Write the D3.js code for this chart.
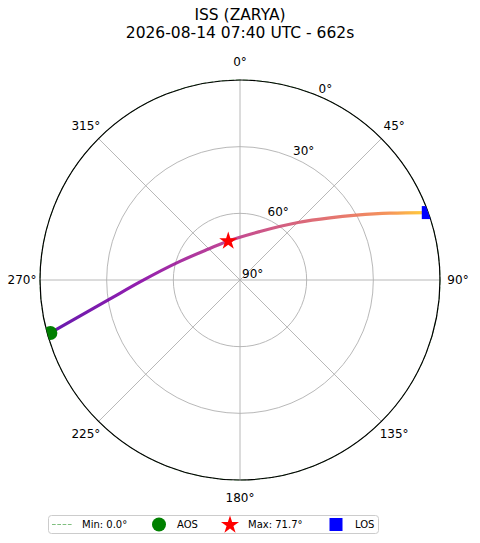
<!DOCTYPE html>
<html><head><meta charset="utf-8">
<script src="https://cdn.jsdelivr.net/npm/d3@7"></script>
<style>body{margin:0;background:#fff} svg{display:block;font-family:"DejaVu Sans",sans-serif}</style>
</head><body><svg id="c" width="480" height="543"></svg>
<script>
// ---- data ----
const titleLines = ["ISS (ZARYA)", "2026-08-14 07:40 UTC - 662s"];
const trackAz = [254.4, 261.7, 268.9, 287.2, 310.2, 343.2, 22.4, 45.25, 55.35, 60.9, 66.0, 70.3];
const trackEl = [1.4, 30.9, 45.0, 61.7, 69.4, 71.7, 66.4, 53.25, 40.8, 30.05, 16.1, 0.0];
const maxIndex = 5;
const minElevation = 0.0;
const azTicks = [0, 45, 90, 135, 180, 225, 270, 315];
const elTicks = [0, 30, 60, 90];
const legendLabels = ["Min: 0.0°", "AOS", "Max: 71.7°", "LOS"];
// colormap stops (position along track, plasma value)
const cmapStops = [[0, 0.15], [0.23, 0.27], [0.47, 0.43], [0.79, 0.63], [0.9, 0.72], [0.97, 0.85], [1, 0.92]];

// ---- layout ----
const cx = 240, cy = 280, R = 200;
const svg = d3.select("#c");
const r = d3.scaleLinear().domain([90, 0]).range([0, R]);
const rad = d => d * Math.PI / 180;
const px = (az, el) => cx + r(el) * Math.sin(rad(az));
const py = (az, el) => cy - r(el) * Math.cos(rad(az));

// title
svg.selectAll("text.title").data(titleLines).join("text").attr("class", "title")
  .attr("x", 240).attr("y", (d, i) => 20 + i * 18)
  .attr("text-anchor", "middle").attr("font-size", 15.5).attr("fill", "#000").text(d => d);

const defs = svg.append("defs");
defs.append("clipPath").attr("id", "clip").append("circle").attr("cx", cx).attr("cy", cy).attr("r", R);

// grid
const g = svg.append("g");
g.selectAll("line.spoke").data(azTicks).join("line")
  .attr("x1", cx).attr("y1", cy)
  .attr("x2", d => px(d, 0)).attr("y2", d => py(d, 0))
  .attr("stroke", "#b0b0b0").attr("stroke-width", 0.9);
g.selectAll("circle.ring").data(elTicks.filter(d => d > 0 && d < 90)).join("circle")
  .attr("cx", cx).attr("cy", cy).attr("r", d => r(d))
  .attr("fill", "none").attr("stroke", "#b0b0b0").attr("stroke-width", 0.9);

// min elevation dashed circle (under spine)
g.append("circle").attr("cx", cx).attr("cy", cy).attr("r", r(minElevation))
  .attr("fill", "none").attr("stroke", "green").attr("stroke-opacity", 0.5)
  .attr("stroke-dasharray", "5,2").attr("stroke-width", 1);

// spine
g.append("circle").attr("cx", cx).attr("cy", cy).attr("r", R)
  .attr("fill", "none").attr("stroke", "#000").attr("stroke-width", 1.2);

// azimuth labels
g.selectAll("text.az").data(azTicks).join("text")
  .attr("x", d => cx + (R + 18) * Math.sin(rad(d)))
  .attr("y", d => cy - (R + 18) * Math.cos(rad(d)))
  .attr("dy", "0.36em").attr("text-anchor", "middle").attr("font-size", 12)
  .text(d => d + "°");

// elevation labels
g.selectAll("text.el").data(elTicks).join("text")
  .attr("x", d => px(22.5, d) + 2)
  .attr("y", d => py(22.5, d) - 2)
  .attr("font-size", 12).text(d => d + "°");

// track
const pts = trackAz.map((a, i) => [px(a, trackEl[i]), py(a, trackEl[i])]);
const grad = defs.append("linearGradient").attr("id", "trk")
  .attr("gradientUnits", "userSpaceOnUse")
  .attr("x1", pts[0][0]).attr("y1", 0)
  .attr("x2", pts[pts.length - 1][0]).attr("y2", 0);
grad.selectAll("stop").data(cmapStops).join("stop")
  .attr("offset", d => d[0]).attr("stop-color", d => d3.interpolatePlasma(d[1]));

const plot = svg.append("g").attr("clip-path", "url(#clip)");
plot.append("path").attr("d", d3.line().curve(d3.curveMonotoneX)(pts))
  .attr("fill", "none").attr("stroke", "url(#trk)").attr("stroke-width", 3.2)
  .attr("stroke-opacity", 0.9).attr("stroke-linecap", "butt");

// markers
const aos = pts[0], los = pts[pts.length - 1], mx = pts[maxIndex];
plot.append("circle").attr("cx", aos[0]).attr("cy", aos[1]).attr("r", 7).attr("fill", "green");
plot.append("path").attr("d", d3.symbol(d3.symbolStar, 101)())
  .attr("transform", `translate(${mx[0]},${mx[1]})`).attr("fill", "red");
plot.append("rect").attr("x", los[0] - 6.5).attr("y", los[1] - 6.5).attr("width", 13).attr("height", 13).attr("fill", "blue");

// legend
const lg = svg.append("g");
lg.append("rect").attr("x", 48.5).attr("y", 515.5).attr("width", 330).attr("height", 18).attr("rx", 3)
  .attr("fill", "#fff").attr("fill-opacity", 0.8).attr("stroke", "#cccccc").attr("stroke-width", 1);
const ly = 524.5;
lg.append("line").attr("x1", 52).attr("x2", 72).attr("y1", ly).attr("y2", ly)
  .attr("stroke", "green").attr("stroke-opacity", 0.5).attr("stroke-dasharray", "3.7,1.6").attr("stroke-width", 1);
lg.append("circle").attr("cx", 159).attr("cy", ly).attr("r", 7).attr("fill", "green");
lg.append("path").attr("d", d3.symbol(d3.symbolStar, 101)()).attr("transform", `translate(230,${ly + 0.5})`).attr("fill", "red");
lg.append("rect").attr("x", 336 - 6.5).attr("y", ly - 6.5).attr("width", 13).attr("height", 13).attr("fill", "blue");
const lx = [82, 177, 248, 355];
lg.selectAll("text.leg").data(legendLabels).join("text").attr("class", "leg")
  .attr("x", (d, i) => lx[i]).attr("y", ly).attr("dy", "0.36em")
  .attr("font-size", 10).text(d => d);
</script></body></html>
